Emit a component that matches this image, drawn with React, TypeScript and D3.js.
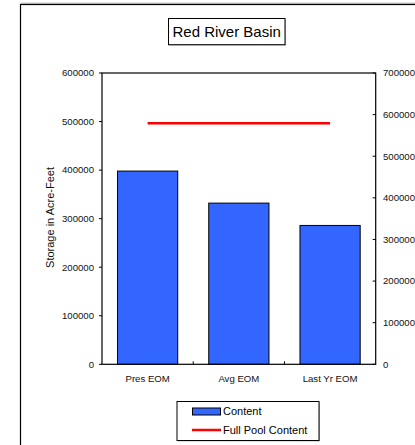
import React from "react";
import * as d3 from "d3";

const categories = ["Pres EOM", "Avg EOM", "Last Yr EOM"];
const contentValues = [398000, 332000, 286000];
const fullPoolValues = [579000, 579000, 579000];
const leftTicks = [0, 100000, 200000, 300000, 400000, 500000, 600000];
const rightTicks = [0, 100000, 200000, 300000, 400000, 500000, 600000, 700000];
const titleText = "Red River Basin";
const yTitle = "Storage in Acre-Feet";
const legendLabels = ["Content", "Full Pool Content"];

const FONT = "'Liberation Sans', Arial, sans-serif";

export default function App() {
  const W = 415, H = 445;
  const pl = 102, pr = 375.7, pt = 73, pb = 364.3;
  const x = d3.scaleBand<string>().domain(categories).range([pl, pr]).padding(0);
  const yL = d3.scaleLinear().domain([0, 600000]).range([pb, pt]);
  const yR = d3.scaleLinear().domain([0, 700000]).range([pb, pt]);
  const bw = x.bandwidth() * 0.66;
  const line = d3
    .line<number>()
    .x((_, i) => (x(categories[i]) as number) + x.bandwidth() / 2)
    .y((d) => yR(d));

  return (
    <div style={{ position: "absolute", left: 0, top: 0 }}>
      <svg width={W} height={H} style={{ display: "block" }} fontFamily={FONT}>
        <rect x={0} y={0} width={W} height={H} fill="#fff" />
        {/* outer frame */}
        <line x1={20.5} y1={3.2} x2={W} y2={3.2} stroke="#aaa" strokeWidth={1} />
        <rect x={20.5} y={4.5} width={600} height={600} fill="none" stroke="#000" strokeWidth={1.2} />

        {/* title */}
        <rect x={169.5} y={19.5} width={116.5} height={26.2} fill="#bbb" />
        <rect x={168.5} y={18.5} width={116.5} height={26.2} fill="#fff" stroke="#000" strokeWidth={1} />
        <text x={226.7} y={37} textAnchor="middle" fontSize={15} fill="#000">
          {titleText}
        </text>

        {/* bars */}
        {contentValues.map((v, i) => {
          const cx = (x(categories[i]) as number) + x.bandwidth() / 2;
          return (
            <rect
              key={i}
              x={cx - bw / 2}
              y={yL(v)}
              width={bw}
              height={yL(0) - yL(v)}
              fill="#3366FF"
              stroke="#000"
              strokeWidth={1}
            />
          );
        })}

        {/* full pool line */}
        <path d={line(fullPoolValues) || ""} fill="none" stroke="#FF0000" strokeWidth={2.5} />

        {/* plot frame */}
        <rect x={pl} y={pt} width={pr - pl} height={pb - pt} fill="none" stroke="#000" strokeWidth={1.2} />

        {/* left axis */}
        {leftTicks.map((t) => (
          <g key={"l" + t}>
            <line x1={pl - 3} x2={pl} y1={yL(t)} y2={yL(t)} stroke="#000" strokeWidth={1} />
            <text x={94} y={yL(t)} dy="0.35em" textAnchor="end" fontSize={9.6} fill="#111">
              {t}
            </text>
          </g>
        ))}

        {/* right axis */}
        {rightTicks.map((t) => (
          <g key={"r" + t}>
            <line x1={pr - 3} x2={pr} y1={yR(t)} y2={yR(t)} stroke="#000" strokeWidth={1} />
            <text x={383} y={yR(t)} dy="0.35em" textAnchor="start" fontSize={9.6} fill="#111">
              {t}
            </text>
          </g>
        ))}

        {/* category ticks and labels */}
        {categories.slice(1).map((c) => (
          <line key={"ct" + c} x1={x(c) as number} x2={x(c) as number} y1={pb} y2={pb - 3} stroke="#000" strokeWidth={1} />
        ))}
        {categories.map((c) => (
          <text
            key={"cl" + c}
            x={(x(c) as number) + x.bandwidth() / 2}
            y={379}
            dy="0.35em"
            textAnchor="middle"
            fontSize={9.6}
            fill="#111"
          >
            {c}
          </text>
        ))}

        {/* y title */}
        <text
          transform={`translate(50,217.5) rotate(-90)`}
          textAnchor="middle"
          dy="0.35em"
          fontSize={11}
          fill="#111"
        >
          {yTitle}
        </text>

        {/* legend */}
        <rect x={178} y={402.5} width={142} height={39} fill="#bbb" />
        <rect x={177} y={401.5} width={142} height={39} fill="#fff" stroke="#000" strokeWidth={1} />
        <rect x={192.5} y={408} width={28} height={7} fill="#3366FF" stroke="#000" strokeWidth={1} />
        <text x={223} y={411.5} dy="0.35em" fontSize={11} fill="#000">
          {legendLabels[0]}
        </text>
        <line x1={192} x2={221} y1={430} y2={430} stroke="#FF0000" strokeWidth={2.5} />
        <text x={223} y={430} dy="0.35em" fontSize={11} fill="#000">
          {legendLabels[1]}
        </text>
      </svg>
    </div>
  );
}
